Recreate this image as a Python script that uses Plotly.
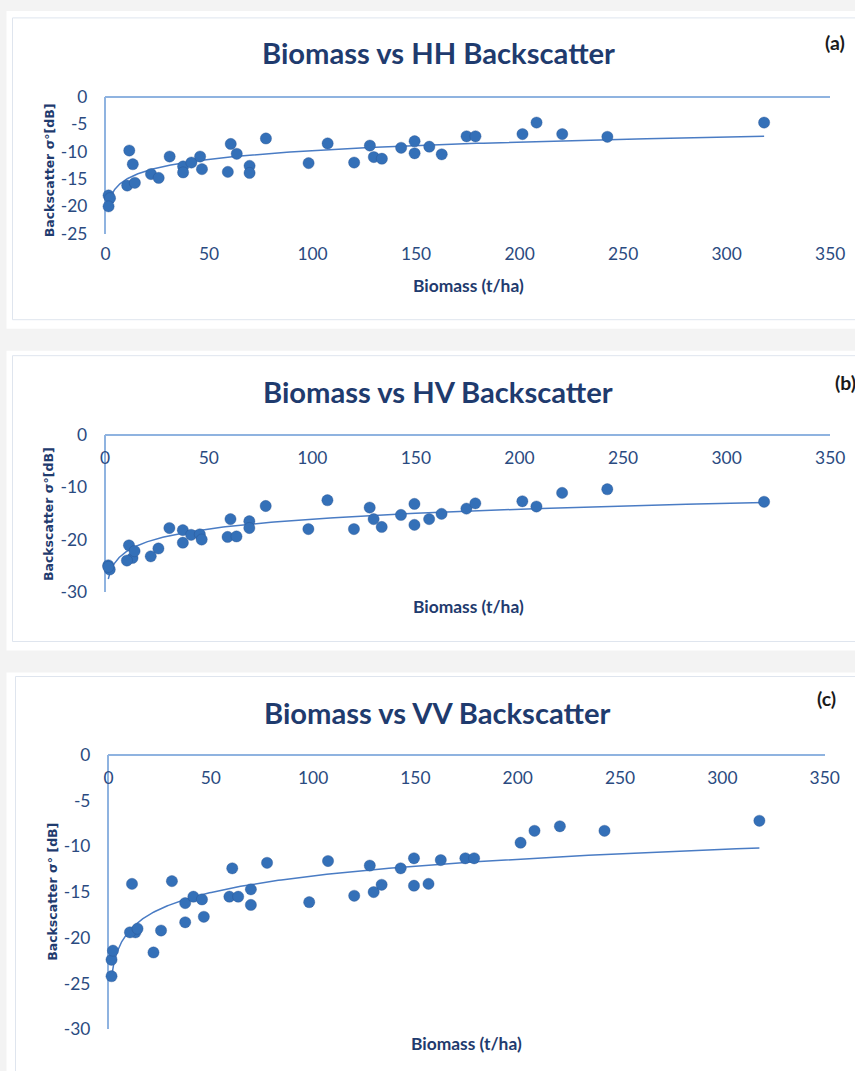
import numpy as np
import plotly.graph_objects as go

# ---------------- data ----------------
biomass = [1.5, 2.2, 1.5, 11.5, 13.2, 10.5, 14.2, 22.0, 25.7, 31.0,
           37.5, 37.5, 41.5, 45.7, 46.6, 59.1, 60.5, 63.4, 69.6, 69.6,
           77.5, 98.1, 107.3, 120.1, 127.7, 129.6, 133.5, 142.8, 149.3, 149.3,
           156.4, 162.4, 174.4, 178.7, 201.4, 208.2, 220.6, 242.4, 318.1]

hh = [-18.0, -18.5, -20.0, -9.8, -12.3, -16.2, -15.7, -14.1, -14.8, -10.9,
      -12.7, -13.8, -12.0, -10.9, -13.2, -13.7, -8.6, -10.4, -12.6, -13.9,
      -7.6, -12.1, -8.5, -12.0, -8.9, -11.0, -11.3, -9.3, -8.1, -10.3,
      -9.1, -10.5, -7.2, -7.2, -6.8, -4.7, -6.8, -7.3, -4.7]

hv = [-24.9, -25.7, -25.2, -21.1, -23.5, -24.0, -22.2, -23.2, -21.7, -17.8,
      -18.2, -20.6, -19.1, -19.0, -20.0, -19.5, -16.1, -19.4, -16.5, -17.8,
      -13.6, -18.0, -12.5, -18.0, -13.9, -16.1, -17.6, -15.3, -13.2, -17.2,
      -16.1, -15.1, -14.1, -13.1, -12.7, -13.7, -11.1, -10.4, -12.8]

vv = [-22.4, -21.4, -24.2, -14.1, -19.4, -19.4, -19.0, -21.6, -19.2, -13.8,
      -16.2, -18.3, -15.5, -15.8, -17.7, -15.5, -12.4, -15.5, -14.7, -16.4,
      -11.8, -16.1, -11.6, -15.4, -12.1, -15.0, -14.2, -12.4, -11.3, -14.3,
      -14.1, -11.5, -11.3, -11.3, -9.6, -8.3, -7.8, -8.3, -7.2]

titles = ["Biomass vs HH Backscatter", "Biomass vs HV Backscatter", "Biomass vs VV Backscatter"]
panel_tags = ["(a)", "(b)", "(c)"]
y_titles = ["Backscatter σ°[dB]", "Backscatter σ°[dB]", "Backscatter σ° [dB]"]
x_title = "Biomass (t/ha)"
x_ticks = [0, 50, 100, 150, 200, 250, 300, 350]
y_ticks = [[0, -5, -10, -15, -20, -25], [0, -10, -20, -30], [0, -5, -10, -15, -20, -25, -30]]
y_ticklabels = [["0", "-5", "-10", "-15", "-20", "-25"], ["0", "-10", "-20", "-30"],
                ["0", "-5", "-10", "-15", "-20", "-25", "-30"]]
y_ranges = [[-25, 0], [-30, 0], [-30, 0]]

# ---------------- styling ----------------
W, H = 855, 1071
MARK = "#3470B8"
AXLINE = "#8FB3E0"
NAVY = "#1F3B6E"
TICK = "#2A4A80"
TFONT = "Lato, sans-serif"

# the photographed page shows a slight scale/offset; layout positions are
# given in target-picture pixels and converted here
SX, OX = 0.977, 4.5
SY, OY = 0.981, 10.1


def fx(px):
    return ((px - OX) / SX) / W


def fy(py):
    return 1 - ((py - OY) / SY) / H


def fs(size):
    return size / SX


# plot-area pixel boxes [x0, x1, ytop, ybottom]
boxes = [(105, 830, 96, 233), (104.7, 830, 434, 591.5), (108, 824.5, 754.5, 1029)]

fig = go.Figure()
series = [hh, hv, vv]
x_arr = np.array(biomass)
for i, ys in enumerate(series):
    xa = "x" if i == 0 else f"x{i+1}"
    ya = "y" if i == 0 else f"y{i+1}"
    y_arr = np.array(ys)
    # logarithmic trendline fitted to the data
    a, b = np.polyfit(np.log(x_arr), y_arr, 1)
    xs = np.geomspace(x_arr.min(), x_arr.max(), 300)
    fig.add_trace(go.Scatter(x=xs, y=a * np.log(xs) + b, mode="lines",
                             line=dict(color="#4A7CC4", width=1.5),
                             xaxis=xa, yaxis=ya, hoverinfo="skip", cliponaxis=False))
    fig.add_trace(go.Scatter(x=biomass, y=ys, mode="markers",
                             marker=dict(size=fs(11), color=MARK,
                                         line=dict(width=1, color="rgba(40,80,140,0.35)")),
                             xaxis=xa, yaxis=ya, cliponaxis=False))

layout = dict(width=W, height=H, autosize=False, showlegend=False,
              margin=dict(l=0, r=0, t=0, b=0),
              paper_bgcolor="#f3f3f3", plot_bgcolor="rgba(0,0,0,0)")

for i, (x0, x1, yt, yb) in enumerate(boxes):
    xk = "xaxis" if i == 0 else f"xaxis{i+1}"
    yk = "yaxis" if i == 0 else f"yaxis{i+1}"
    ya = "y" if i == 0 else f"y{i+1}"
    xa = "x" if i == 0 else f"x{i+1}"
    xdict = dict(domain=[fx(x0), fx(x1)], range=[0, 350], anchor=ya,
                 showgrid=False, showline=False, zeroline=True,
                 zerolinecolor=AXLINE, zerolinewidth=1.5,
                 tickmode="array", tickvals=x_ticks, ticks="",
                 tickfont=dict(family=TFONT, size=fs(17), color=TICK))
    if i == 0:
        xdict.update(side="bottom", ticklabelstandoff=8)
    else:
        xdict.update(side="top", ticklabelstandoff=-34)
    layout[xk] = xdict
    layout[yk] = dict(domain=[fy(yb), fy(yt)], range=y_ranges[i], anchor=xa,
                      showgrid=False, showline=False, zeroline=True,
                      zerolinecolor=AXLINE, zerolinewidth=1.5,
                      tickmode="array", tickvals=y_ticks[i], ticktext=y_ticklabels[i],
                      ticks="", ticklabelstandoff=17,
                      tickfont=dict(family=TFONT, size=fs(17), color=TICK))

fig.update_layout(**layout)

# panel backgrounds and frames
panels = [(6, 10, 880, 328, 12, 17, 319), (6, 350, 880, 650, 12, 355, 641),
          (6, 672, 880, 1100, 15, 676, 1098)]
for (l, t, r, bt, bl, btop, bb) in panels:
    fig.add_shape(type="rect", xref="paper", yref="paper", layer="below",
                  x0=fx(l), x1=fx(r), y0=fy(bt), y1=fy(t),
                  fillcolor="white", line=dict(width=0))
    fig.add_shape(type="rect", xref="paper", yref="paper", layer="below",
                  x0=fx(bl), x1=fx(r), y0=fy(bb), y1=fy(btop),
                  fillcolor="rgba(0,0,0,0)", line=dict(width=1, color="#dfe5ee"))

# text annotations
title_pos = [(438, 52), (438, 391), (437, 712)]
tag_pos = [(835, 42), (845, 382), (826, 698)]
ytitle_pos = [(49, 169), (48, 513), (52, 891)]
xtitle_pos = [(468, 285), (468, 606), (466, 1043)]
for i in range(3):
    fig.add_annotation(text=f"<b>{titles[i]}</b>", xref="paper", yref="paper",
                       x=fx(title_pos[i][0]), y=fy(title_pos[i][1]),
                       xanchor="center", yanchor="middle", showarrow=False,
                       font=dict(family=TFONT, size=fs(28.5), color=NAVY))
    fig.add_annotation(text=f"<b>{panel_tags[i]}</b>", xref="paper", yref="paper",
                       x=fx(tag_pos[i][0]), y=fy(tag_pos[i][1]),
                       xanchor="center", yanchor="middle", showarrow=False,
                       font=dict(family=TFONT, size=fs(19), color="#1a1a1a"))
    fig.add_annotation(text=f"<b>{y_titles[i]}</b>", xref="paper", yref="paper",
                       x=fx(ytitle_pos[i][0]), y=fy(ytitle_pos[i][1]),
                       xanchor="center", yanchor="middle", showarrow=False, textangle=-90,
                       font=dict(family="DejaVu Sans", size=12.5, color=NAVY))
    fig.add_annotation(text=f"<b>{x_title}</b>", xref="paper", yref="paper",
                       x=fx(xtitle_pos[i][0]), y=fy(xtitle_pos[i][1]),
                       xanchor="center", yanchor="middle", showarrow=False,
                       font=dict(family=TFONT, size=fs(17), color=NAVY))

fig.write_html("out.html", config={"displayModeBar": False},
               post_script="document.body.style.margin='0px';"
                           "document.body.style.padding='0px';"
                           "document.body.style.overflow='hidden';")
